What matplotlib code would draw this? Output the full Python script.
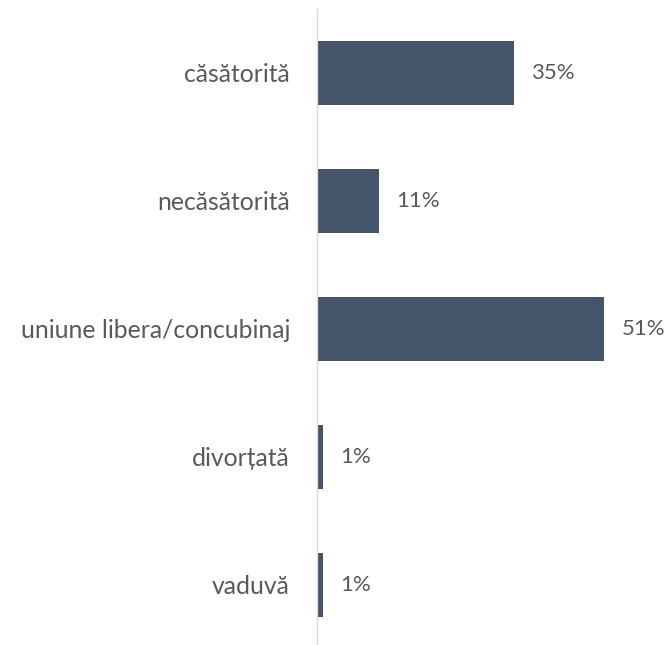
import matplotlib
matplotlib.use("Agg")
import matplotlib.pyplot as plt

categories = ["căsătorită", "necăsătorită", "uniune libera/concubinaj", "divorțată", "vaduvă"]
values = [35, 11, 51, 1, 1]
value_labels = ["35%", "11%", "51%", "1%", "1%"]

plt.rcParams['font.family'] = ['Lato', 'DejaVu Sans']

W, H = 670, 645
fig = plt.figure(figsize=(W/100, H/100), dpi=100)
left = 317 / W
right = 640 / W
top_px, bot_px = 9, 645
ax = fig.add_axes([left, 1 - bot_px / H, right - left, (bot_px - top_px) / H])

ypos = list(range(len(categories)))
ax.barh(ypos, values, height=0.5, color="#44546A", edgecolor="none")
ax.set_xlim(0, 323 / 5.63)
ax.set_ylim(-0.5 + (bot_px - top_px) / 128, -0.5)

for y, v, lab in zip(ypos, values, value_labels):
    ax.annotate(lab, (v, y), xytext=(12.5, 0), textcoords="offset points",
                va="center", ha="left", fontsize=16, color="#595959")

ax.set_yticks(ypos)
ax.set_yticklabels(categories, fontsize=17.8, color="#595959")
ax.tick_params(axis="y", length=0, pad=19.5)
ax.set_xticks([])
for s in ["top", "right", "bottom"]:
    ax.spines[s].set_visible(False)
ax.spines["left"].set_color("#D9D9D9")
ax.spines["left"].set_linewidth(1.0)

fig.savefig("out.png", dpi=100)
